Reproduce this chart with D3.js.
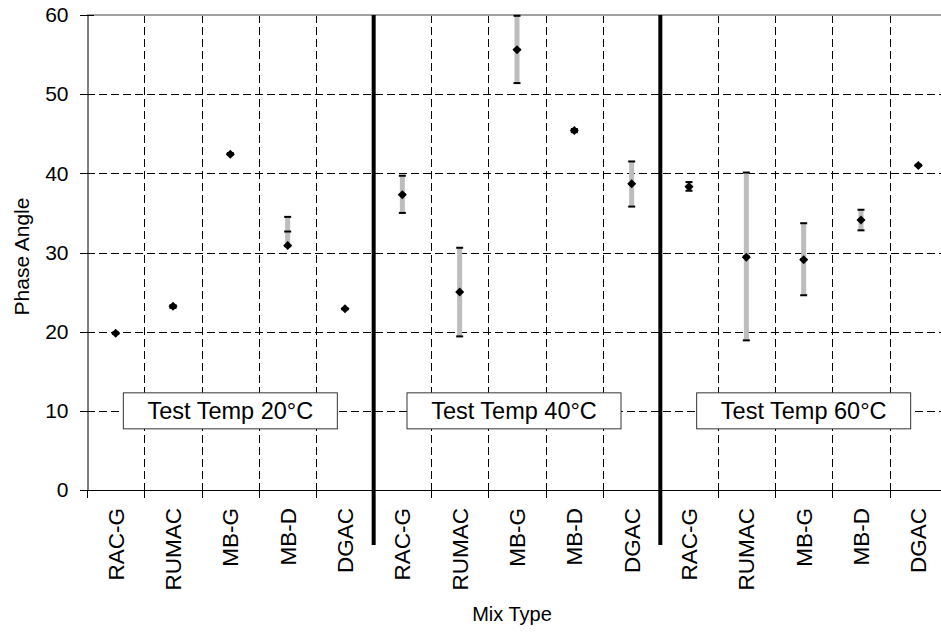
<!DOCTYPE html>
<html>
<head>
<meta charset="utf-8">
<script src="https://cdn.jsdelivr.net/npm/d3@7"></script>
<style>
  html, body { margin: 0; padding: 0; background: #fff; overflow: hidden; }
  svg { display: block; font-family: "Liberation Sans", Arial, sans-serif; }
</style>
</head>
<body>
<svg id="chart" width="941" height="632"></svg>
<script>
// ---- data ----
const temps = ["20°C", "40°C", "60°C"];
const mixes = ["RAC-G", "RUMAC", "MB-G", "MB-D", "DGAC"];
const boxLabels = ["Test Temp 20°C", "Test Temp 40°C", "Test Temp 60°C"];
// marker (diamond) values, per temperature, per mix
const marker20 = [19.8, 23.2, 42.4, 30.9, 22.9];
const marker40 = [37.3, 25.0, 55.6, 45.4, 38.7];
const marker60 = [38.3, 29.4, 29.1, 34.1, 41.0];
// error bar lows / highs
const low20 = [19.7, 23.0, 42.35, 30.8, 22.8];
const high20 = [19.9, 23.35, 42.55, 34.5, 22.95];
const low40 = [35.0, 19.4, 51.4, 45.2, 35.8];
const high40 = [39.7, 30.6, 59.9, 45.6, 41.5];
const low60 = [37.8, 18.9, 24.6, 32.8, 40.95];
const high60 = [38.9, 40.1, 33.7, 35.4, 41.1];
const yTicks = [0, 10, 20, 30, 40, 50, 60];
const yTitle = "Phase Angle";
const xTitle = "Mix Type";

const markers = [marker20, marker40, marker60];
const lows = [low20, low40, low60];
const highs = [high20, high40, high60];

const rows = [];
temps.forEach((t, ti) => mixes.forEach((m, mi) => rows.push({
  key: t + "|" + m, temp: t, ti, mix: m, mi,
  v: markers[ti][mi], lo: lows[ti][mi], hi: highs[ti][mi]
})));

// ---- layout ----
const svg = d3.select("#chart");
const pLeft = 87, pRight = 947, pTop = 15, pBottom = 490;

const x = d3.scaleBand().domain(rows.map(d => d.key)).range([pLeft, pRight]).paddingInner(0).paddingOuter(0);
const y = d3.scaleLinear().domain([0, 60]).range([pBottom, pTop]);
const bw = x.bandwidth();
const boundaries = d3.range(0, rows.length + 1).map(k => pLeft + k * bw);

// horizontal gridlines
svg.append("g").selectAll("line").data(yTicks.filter(v => v > 0 && v < 60)).join("line")
  .attr("x1", pLeft).attr("x2", 941)
  .attr("y1", d => Math.round(y(d)) + 0.5).attr("y2", d => Math.round(y(d)) + 0.5)
  .attr("stroke", "#000").attr("stroke-width", 1).attr("stroke-dasharray", "8,4");

// vertical gridlines (not at group separators)
svg.append("g").selectAll("line").data(boundaries.filter((b, k) => k > 0 && k % 5 !== 0)).join("line")
  .attr("x1", d => Math.round(d) + 0.5).attr("x2", d => Math.round(d) + 0.5)
  .attr("y1", pTop).attr("y2", pBottom)
  .attr("stroke", "#000").attr("stroke-width", 1).attr("stroke-dasharray", "8,4");

// top border
svg.append("line").attr("x1", pLeft).attr("x2", 941).attr("y1", y(60)).attr("y2", y(60))
  .attr("stroke", "#a0a0a0").attr("stroke-width", 2);

// y axis
const yAxis = svg.append("g").attr("transform", `translate(${pLeft + 0.5},0)`)
  .call(d3.axisLeft(y).tickValues(yTicks).tickSize(0).tickPadding(19));
yAxis.select(".domain").attr("stroke", "#000");
yAxis.selectAll("text").attr("font-size", 21).attr("fill", "#000")
  .attr("font-family", "Liberation Sans, Arial, sans-serif");
svg.append("g").selectAll("line").data(yTicks).join("line")
  .attr("x1", pLeft - 7).attr("x2", pLeft + 7)
  .attr("y1", d => Math.round(y(d)) + 0.5).attr("y2", d => Math.round(y(d)) + 0.5)
  .attr("stroke", "#000");

// x axis line
svg.append("line").attr("x1", pLeft).attr("x2", 941).attr("y1", pBottom + 0.5).attr("y2", pBottom + 0.5)
  .attr("stroke", "#000");
// x boundary ticks
svg.append("g").selectAll("line").data(boundaries).join("line")
  .attr("x1", d => Math.round(d) + 0.5).attr("x2", d => Math.round(d) + 0.5)
  .attr("y1", pBottom).attr("y2", pBottom + 8)
  .attr("stroke", "#000");

// category labels
const xAxis = svg.append("g").attr("transform", `translate(0,${pBottom})`)
  .call(d3.axisBottom(x).tickSize(0).tickFormat(k => k.split("|")[1]));
xAxis.select(".domain").remove();
xAxis.selectAll(".tick text")
  .attr("font-size", 22.5).attr("fill", "#000")
  .attr("font-family", "Liberation Sans, Arial, sans-serif")
  .attr("transform", "rotate(-90)")
  .attr("text-anchor", "end")
  .attr("x", -18).attr("y", 0).attr("dy", "0.36em");

// group separators
svg.append("g").selectAll("line").data(boundaries.filter((b, k) => k === 5 || k === 10)).join("line")
  .attr("x1", d => d).attr("x2", d => d)
  .attr("y1", pTop).attr("y2", 545)
  .attr("stroke", "#000").attr("stroke-width", 4);

// temperature boxes
const boxW = 214, boxH = 36;
const boxG = svg.append("g").selectAll("g").data(boxLabels).join("g")
  .attr("transform", (d, i) => {
    const cx = (boundaries[i * 5] + boundaries[i * 5 + 5]) / 2 - (i === 1 ? 3 : 0);
    return `translate(${cx},${y(10) - 18})`;
  });
boxG.append("rect").attr("x", -boxW / 2).attr("y", 0).attr("width", boxW).attr("height", boxH)
  .attr("fill", "#fff").attr("stroke", "#333").attr("stroke-width", 1);
boxG.append("text").attr("x", 0).attr("y", 26).attr("text-anchor", "middle")
  .attr("font-size", 23.5).attr("fill", "#000").text(d => d);

// error bars
const eb = svg.append("g").selectAll("g").data(rows).join("g")
  .attr("transform", d => `translate(${x(d.key) + bw / 2},0)`);
eb.append("rect").attr("x", -2.5).attr("width", 5)
  .attr("y", d => y(d.hi)).attr("height", d => y(d.lo) - y(d.hi))
  .attr("fill", "#bdbdbd");
eb.append("line").attr("x1", -3.5).attr("x2", 3.5)
  .attr("y1", d => y(d.hi)).attr("y2", d => y(d.hi))
  .attr("stroke", "#000").attr("stroke-width", 2);
eb.append("line").attr("x1", -3.5).attr("x2", 3.5)
  .attr("y1", d => y(d.lo)).attr("y2", d => y(d.lo))
  .attr("stroke", "#000").attr("stroke-width", 2);
eb.append("line").attr("x1", -3.5).attr("x2", 3.5)
  .attr("y1", d => y((d.lo + d.hi) / 2)).attr("y2", d => y((d.lo + d.hi) / 2))
  .attr("stroke", "#000").attr("stroke-width", 2);
// diamond markers
eb.append("path")
  .attr("d", d => { const cy = y(d.v); return `M0,${cy - 4.5}L4.5,${cy}L0,${cy + 4.5}L-4.5,${cy}Z`; })
  .attr("fill", "#000");

// axis titles
svg.append("text").attr("transform", `translate(29,${(pTop + pBottom) / 2 + 4}) rotate(-90)`)
  .attr("text-anchor", "middle").attr("font-size", 21).attr("fill", "#000").text(yTitle);
svg.append("text").attr("x", 512).attr("y", 621)
  .attr("text-anchor", "middle").attr("font-size", 20).attr("fill", "#000").text(xTitle);
</script>
</body>
</html>
